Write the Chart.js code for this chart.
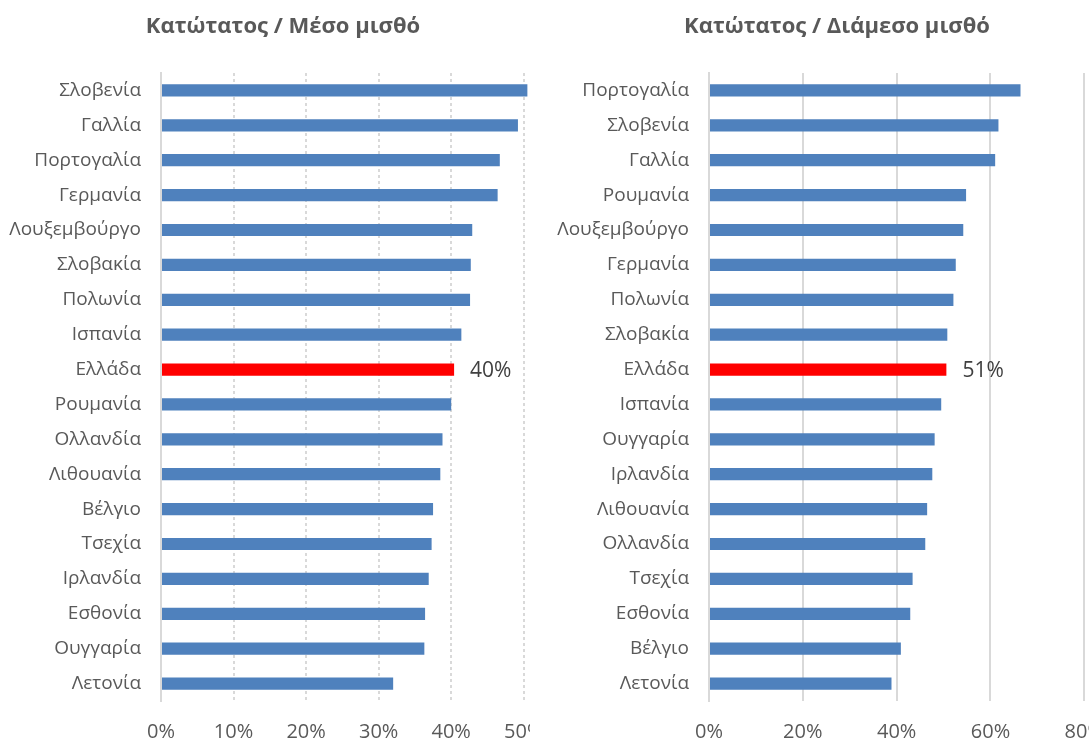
<!DOCTYPE html>
<html>
<head>
<meta charset="utf-8">
<script src="https://cdn.jsdelivr.net/npm/chart.js@4"></script>
<style>
  body { margin: 0; background: #fff; width: 1089px; height: 740px; position: relative; overflow: hidden; }
  .wrap { position: absolute; top: 0; height: 740px; overflow: hidden; }
  .title { position: absolute; top: 9px; font-family: "Open Sans", sans-serif; font-weight: bold; font-size: 22px; color: #595959; white-space: nowrap; transform: translateX(-50%); }
</style>
</head>
<body>
<div class="wrap" style="left:0;width:530px"><canvas id="left" width="635" height="740"></canvas></div>
<div class="wrap" style="left:545px;width:544px"><canvas id="right" width="578" height="740"></canvas></div>
<div class="title" style="left:283px">Κατώτατος / Μέσο μισθό</div>
<div class="title" style="left:837px">Κατώτατος / Διάμεσο μισθό</div>
<script>
// ελάχιστος μισθός ως % του μέσου μισθού
const countriesMean = ["Σλοβενία", "Γαλλία", "Πορτογαλία", "Γερμανία", "Λουξεμβούργο", "Σλοβακία", "Πολωνία", "Ισπανία", "Ελλάδα", "Ρουμανία", "Ολλανδία", "Λιθουανία", "Βέλγιο", "Τσεχία", "Ιρλανδία", "Εσθονία", "Ουγγαρία", "Λετονία"];
const valuesMean = [50.5, 49.2, 46.7, 46.4, 42.9, 42.7, 42.6, 41.4, 40.4, 40.0, 38.8, 38.5, 37.5, 37.3, 36.9, 36.4, 36.3, 32.0];

// ελάχιστος μισθός ως % του διάμεσου μισθού
const countriesMedian = ["Πορτογαλία", "Σλοβενία", "Γαλλία", "Ρουμανία", "Λουξεμβούργο", "Γερμανία", "Πολωνία", "Σλοβακία", "Ελλάδα", "Ισπανία", "Ουγγαρία", "Ιρλανδία", "Λιθουανία", "Ολλανδία", "Τσεχία", "Εσθονία", "Βέλγιο", "Λετονία"];
const valuesMedian = [66.4, 61.7, 61.0, 54.8, 54.2, 52.6, 52.1, 50.8, 50.6, 49.5, 48.1, 47.6, 46.5, 46.1, 43.4, 42.9, 40.9, 38.9];

const highlight = "Ελλάδα";
const BLUE = "#4f81bd";
const RED = "#ff0000";
const GREY = "#595959";
const GRID = "#d9d9d9";

// γράφει την τιμή μόνο για την Ελλάδα
const greeceLabel = {
  id: "greeceLabel",
  afterDatasetsDraw(chart) {
    const ctx = chart.ctx;
    const idx = chart.data.labels.indexOf(highlight);
    const bar = chart.getDatasetMeta(0).data[idx];
    const v = chart.data.datasets[0].data[idx];
    ctx.save();
    ctx.font = "21px 'Open Sans'";
    ctx.fillStyle = "#404040";
    ctx.textAlign = "left";
    ctx.textBaseline = "middle";
    ctx.fillText(Math.round(v) + "%", bar.x + 16, bar.y + 1);
    ctx.restore();
  }
};

function makeChart(id, labels, values, max, step, dotted, axisWidth) {
  return new Chart(document.getElementById(id), {
    type: "bar",
    data: {
      labels: labels,
      datasets: [{
        data: values,
        backgroundColor: labels.map(c => c === highlight ? RED : BLUE),
        borderWidth: 0,
        barPercentage: 0.35,
        categoryPercentage: 1
      }]
    },
    options: {
      indexAxis: "y",
      responsive: false,
      animation: false,
      layout: { padding: { top: 73, right: 0, left: 0, bottom: 0 } },
      plugins: { legend: { display: false }, tooltip: { enabled: false } },
      scales: {
        x: {
          min: 0,
          max: max,
          ticks: {
            stepSize: step,
            color: GREY,
            font: { family: "Open Sans", size: 20 },
            padding: 19,
            callback: v => v + "%"
          },
          grid: {
            color: c => c.index === 0 ? "transparent" : GRID,
            lineWidth: 2,
            drawTicks: false
          },
          border: { display: false, dash: dotted ? [3, 3] : [] },
          afterFit: s => { s.height = 39; }
        },
        y: {
          ticks: {
            color: GREY,
            font: { family: "Open Sans", size: 19 },
            padding: 20
          },
          grid: { display: false, drawTicks: false },
          border: { display: true, color: GRID, width: 2 },
          afterFit: s => { s.width = axisWidth; }
        }
      }
    },
    plugins: [greeceLabel]
  });
}

makeChart("left", countriesMean, valuesMean, 60, 10, true, 161);
makeChart("right", countriesMedian, valuesMedian, 80, 20, false, 164);
</script>
</body>
</html>
